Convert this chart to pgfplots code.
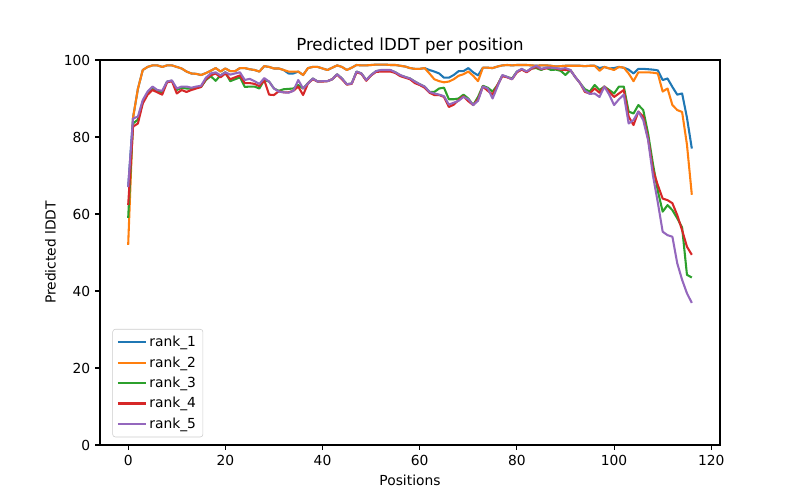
\documentclass[border=0pt]{standalone}
\usepackage{fontspec}
\setmainfont{DejaVu Sans}
\usepackage{pgfplots}
\usepackage{pgfplotstable}
\pgfplotsset{compat=1.18}
\definecolor{c0}{HTML}{1F77B4}
\definecolor{c1}{HTML}{FF7F0E}
\definecolor{c2}{HTML}{2CA02C}
\definecolor{c3}{HTML}{D62728}
\definecolor{c4}{HTML}{9467BD}
\pgfplotstableread{
x r1 r2 r3 r4 r5
0 67 52 59 62.3 67
1 85 85 83.5 82.7 84.8
2 92.5 92.5 84.5 83.5 85.3
3 97.4 97.4 89.0 88.7 89.6
4 98.2 98.2 91.4 91.0 91.8
5 98.6 98.6 92.6 92.2 93.1
6 98.6 98.6 92.0 91.6 92.2
7 98.2 98.2 91.6 91.0 92.0
8 98.6 98.6 94.4 94.2 94.4
9 98.6 98.6 94.6 94.5 94.7
10 98.2 98.2 92.2 91.3 92.6
11 97.8 97.8 92.8 92.2 93.1
12 97.0 97.0 92.6 91.7 93.1
13 96.5 96.5 92.6 92.2 92.8
14 96.4 96.4 92.8 92.6 93.1
15 96.1 96.1 93.0 93.0 93.3
16 96.6 96.6 94.8 95.0 95.4
17 97.2 97.2 95.8 96.0 96.5
18 97.9 97.9 94.6 96.5 96.8
19 97.0 97.0 96.0 95.5 96.0
20 97.8 97.8 96.8 96.5 96.8
21 97.1 97.1 94.5 95.0 96.2
22 97.1 97.1 95.0 95.5 96.5
23 97.9 97.9 95.5 96.0 96.8
24 97.9 97.9 93.0 94.0 94.8
25 97.6 97.6 93.1 94.0 95.1
26 97.4 97.4 93.1 93.8 94.5
27 97.0 97.0 92.6 93.2 93.8
28 98.4 98.4 94.8 94.8 95.3
29 98.2 98.2 94.4 91.0 94.4
30 97.8 97.8 92.6 90.9 92.6
31 97.8 97.8 92.0 91.9 91.8
32 97.4 97.4 92.4 91.6 91.6
33 96.5 97.0 92.5 91.6 91.5
34 96.5 97.0 92.6 92.0 92.0
35 97.0 97.0 93.5 93.1 94.8
36 96.1 96.1 92.6 90.9 92.6
37 97.9 97.9 94.0 93.9 93.9
38 98.2 98.2 95.2 95.0 95.2
39 98.2 98.2 94.4 94.4 94.4
40 97.8 97.8 94.5 94.4 94.5
41 97.4 97.4 94.5 94.5 94.5
42 98.0 98.0 95.0 95.0 95.0
43 98.6 98.6 96.3 96.2 96.3
44 98.2 98.2 95.2 95.0 95.2
45 97.4 97.4 93.7 93.6 93.7
46 98.0 98.0 93.9 93.8 93.9
47 98.7 98.7 97.0 96.8 97.0
48 98.6 98.6 96.5 96.4 96.5
49 98.6 98.6 94.8 94.6 94.8
50 98.7 98.7 96.1 96.0 96.1
51 98.8 98.8 97.1 96.9 97.1
52 98.8 98.8 97.3 97.0 97.4
53 98.8 98.8 97.3 97.0 97.4
54 98.7 98.7 97.3 97.0 97.4
55 98.7 98.7 96.8 96.6 96.8
56 98.5 98.5 96.0 95.8 96.1
57 98.3 98.3 95.6 95.4 95.6
58 97.9 97.9 95.2 95.0 95.2
59 97.7 97.7 94.4 94.0 94.4
60 97.7 97.7 93.7 93.5 93.7
61 97.9 97.9 93.1 92.8 93.1
62 97.4 96.5 91.7 91.5 91.7
63 97.0 95.0 91.7 90.9 91.3
64 96.5 94.5 92.6 90.9 91.0
65 95.4 94.2 92.8 90.4 90.6
66 95.4 94.4 89.8 87.8 88.4
67 96.1 95.0 89.8 88.4 88.9
68 97.1 95.9 90.0 89.6 89.4
69 97.1 96.3 91.0 90.6 90.4
70 97.9 97.0 90.0 89.3 89.8
71 96.8 95.9 88.3 88.3 88.3
72 96.0 94.5 90.4 89.8 89.4
73 98.0 98.0 93.3 93.1 93.1
74 98.0 98.0 92.8 92.0 92.6
75 97.9 97.9 91.8 91.0 90.0
76 98.3 98.3 93.5 93.5 93.1
77 98.6 98.6 96.0 95.8 96.1
78 98.7 98.7 95.6 95.5 95.6
79 98.6 98.6 95.2 95.0 95.0
80 98.7 98.7 97.0 96.8 97.0
81 98.7 98.7 97.6 97.5 97.7
82 98.7 98.7 97.0 96.8 97.0
83 98.6 98.6 97.8 97.7 97.9
84 98.5 98.5 97.9 98.2 98.5
85 98.6 98.6 97.4 97.6 97.7
86 98.6 98.6 98.0 97.8 98.0
87 98.5 98.5 97.4 98.0 98.0
88 98.3 98.3 97.5 97.8 97.9
89 98.4 98.4 97.2 97.5 97.7
90 98.5 98.5 96.1 97.4 97.9
91 98.5 98.5 97.4 97.4 97.4
92 98.5 98.5 95.6 95.6 95.6
93 98.5 98.5 94.0 94.0 94.0
94 98.4 98.4 92.4 91.7 92.0
95 98.5 98.5 91.8 91.3 91.2
96 98.5 98.5 93.5 92.6 91.3
97 97.9 97.2 92.2 91.5 90.4
98 98.2 98.2 93.1 93.1 93.1
99 97.8 97.8 92.2 91.8 91.0
100 97.9 97.4 91.3 90.4 88.3
101 98.2 98.2 93.1 91.3 89.8
102 98.0 98.0 93.1 92.2 91.0
103 97.5 96.5 86.6 85.3 83.5
104 96.5 94.5 86.1 83.1 84.4
105 97.7 96.8 88.3 86.6 86.6
106 97.7 96.8 87.0 85.3 84.4
107 97.6 96.8 80.9 79.6 79.2
108 97.5 96.7 73.0 71.5 70.0
109 97.3 96.5 66.0 67.5 63.0
110 94.8 91.8 60.6 64.0 55.4
111 95.2 92.6 62.3 63.6 54.5
112 93.0 88.3 61.0 62.8 54.1
113 91.0 87.0 58.9 59.7 47.2
114 91.3 86.5 56.5 55.8 42.9
115 85.0 78.0 44.2 51.5 39.4
116 77.0 65.0 43.5 49.4 36.9
}\data
\begin{document}
\begin{tikzpicture}
\path[use as bounding box] (0,0) rectangle (8in,5in);
\begin{axis}[
  at={(1in,0.55in)}, anchor=south west,
  width=6.2in, height=3.85in, scale only axis,
  xmin=-5.8, xmax=121.8, ymin=0, ymax=100,
  xtick={0,20,...,120}, ytick={0,20,...,100},
  tick align=outside, tick pos=left,
  major tick length=3.5pt,
  every tick/.style={black, line width=0.8pt},
  axis line style={line width=0.8pt},
  /pgf/number format/assume math mode=true,
  ticklabel style={font=\fontsize{10}{12}\selectfont},
  label style={font=\fontsize{10}{12}\selectfont},
  title style={font=\fontsize{12}{14}\selectfont, yshift=-5.5pt},
  title={Predicted lDDT per position},
  xlabel={Positions}, ylabel={Predicted lDDT},
  xlabel style={yshift=0pt},
  ylabel style={yshift=-1pt},
  legend style={at={(0.02,0.02)}, anchor=south west, draw=black!20, rounded corners=2pt,
    fill=white, fill opacity=0.8, text opacity=1, font=\fontsize{10}{12}\selectfont,
    inner xsep=3pt, inner ysep=3pt, row sep=1.6pt},
  legend cell align=left,
  legend image code/.code={\draw[#1] (0pt,0pt) -- (20pt,0pt);},
  every axis plot/.append style={line width=1.5pt, line join=round},
]
\addplot[c0, no marks] table[x=x, y=r1] {\data};
\addlegendentry{rank\_1}
\addplot[c1, no marks] table[x=x, y=r2] {\data};
\addlegendentry{rank\_2}
\addplot[c2, no marks] table[x=x, y=r3] {\data};
\addlegendentry{rank\_3}
\addplot[c3, no marks] table[x=x, y=r4] {\data};
\addlegendentry{rank\_4}
\addplot[c4, no marks] table[x=x, y=r5] {\data};
\addlegendentry{rank\_5}
\end{axis}
\end{tikzpicture}
\end{document}
